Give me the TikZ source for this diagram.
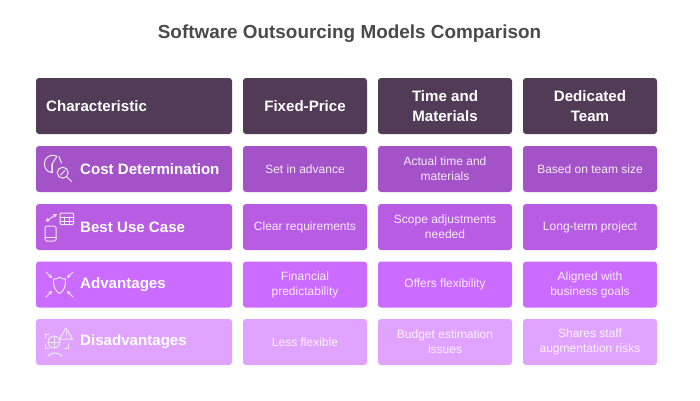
\documentclass[tikz,border=0pt]{standalone}
\usepackage{fontspec}
\setmainfont{Liberation Sans}
\usepackage{xcolor}
\usetikzlibrary{arrows.meta}
\definecolor{headfill}{HTML}{523B57}
\definecolor{costfill}{HTML}{A353C7}
\definecolor{usefill}{HTML}{B85CE3}
\definecolor{advfill}{HTML}{CB6BFF}
\definecolor{disfill}{HTML}{E0A3FF}
\definecolor{titlegrey}{HTML}{4A4A4A}
\tikzset{
	box/.style={rounded corners=3pt, inner sep=0pt, align=center},
	headtext/.style={font=\fontsize{15.1}{19.5}\selectfont\bfseries, text=white},
	celltxt/.style={font=\fontsize{12}{15}\selectfont},
	rowtext/.style={font=\fontsize{15.1}{18}\selectfont\bfseries, text=white, anchor=west, inner sep=0pt},
	icon/.style={draw=white!92!black, line width=1pt, line cap=round, line join=round},
	iconarrow/.style={icon, {Stealth[length=4pt, width=4.5pt]}-{Stealth[length=4pt, width=4.5pt]}},
	inarrow/.style={icon, -{Stealth[length=3.6pt, width=4.2pt]}},
}
\begin{document}
\begin{tikzpicture}[x=1pt, y=-1pt]
	\useasboundingbox (0,0) rectangle (700,400);

	\node (title) at (349.5,33.5) [font=\fontsize{18.9}{24}\selectfont\bfseries, text=titlegrey]
		{Software Outsourcing Models Comparison};

	% Header row
	\node (head) at (134,106) [box, fill=headfill, minimum width=196pt, minimum height=56pt] {};
	\node (headlabel) at (46,106) [headtext, anchor=west, inner sep=0pt] {Characteristic};
	\node (fixed) at (305,106) [box, fill=headfill, headtext, minimum width=124pt, minimum height=56pt] {Fixed-Price};
	\node (time) at (445,106) [box, fill=headfill, headtext, minimum width=134pt, minimum height=56pt] {Time and\\Materials};
	\node (team) at (590,106) [box, fill=headfill, headtext, minimum width=134pt, minimum height=56pt] {Dedicated\\Team};

	% Rows
	\foreach \name/\y/\col/\label/\a/\b/\c in {
		cost/169/costfill/Cost Determination/Set in advance/Actual time and\\materials/Based on team size,
		use/227/usefill/Best Use Case/Clear requirements/Scope adjustments\\needed/Long-term project,
		adv/284.5/advfill/Advantages/Financial\\predictability/Offers flexibility/Aligned with\\business goals,
		dis/342/disfill/Disadvantages/Less flexible/Budget estimation\\issues/Shares staff\\augmentation risks}
	{
		\node (\name) at (134,\y) [box, fill=\col, minimum width=196pt, minimum height=46pt] {};
		\node (\name label) at (80,\y) [rowtext] {\label};
		\node (\name a) at (305,\y) [box, fill=\col, celltxt, text=white!88!\col, minimum width=124pt, minimum height=46pt] {\a};
		\node (\name b) at (445,\y) [box, fill=\col, celltxt, text=white!88!\col, minimum width=134pt, minimum height=46pt] {\b};
		\node (\name c) at (590,\y) [box, fill=\col, celltxt, text=white!88!\col, minimum width=134pt, minimum height=46pt] {\c};
	}

	% Cost icon
	\draw [icon] (57,156.3) arc (-62:-262:8.7) -- (52,164) -- (57,156.3);
	\draw [icon] (52,164) -- (52,172.5);
	\draw [icon] (59,156.5) -- (61.5,163);
	\draw [icon] (62.7,172.7) circle (5.5);
	\draw [icon] (60.5,175) -- (65,170.5);
	\draw [icon] (66.8,176.8) -- (71.7,181.7);

	% Use case icon
	\draw [icon, rounded corners=1pt] (60,213) rectangle (73.5,224.5);
	\draw [icon] (60,217) -- (73.5,217) (60,221) -- (73.5,221) (64.5,217) -- (64.5,224.5) (69,217) -- (69,224.5);
	\draw [icon, rounded corners=1.5pt] (45,226) rectangle (56,241);
	\draw [icon] (45,237) -- (56,237);
	\draw [iconarrow] (45.5,221.5) -- (57,214);

	% Advantages icon
	\draw [icon] (53.5,279) .. controls (57,279) and (59,278) .. (59.5,277)
		.. controls (60,278) and (62,279) .. (65.5,279)
		.. controls (66,286) and (64,291) .. (59.5,293.5)
		.. controls (55,291) and (53,286) .. (53.5,279) -- cycle;
	\draw [inarrow] (46,272) -- (52,278);
	\draw [inarrow] (73,272) -- (67,278);
	\draw [inarrow] (46,297) -- (52,291);
	\draw [inarrow] (73,297) -- (67,291);

	% Disadvantages icon
	\draw [icon] (49,334) -- (45,334) -- (45,338);
	\draw [icon] (45,344) -- (45,348) -- (49,348);
	\draw [icon] (64,348) -- (68,348) -- (68,344);
	\draw [icon] (54,342) circle (6);
	\draw [icon] (48,342) -- (60,342) (54,336) -- (54,348);
	\draw [icon, fill=disfill] (66,328) -- (72.5,339) -- (59.5,339) -- cycle;
	\draw [icon] (66,331.5) -- (66,335) (66,337) -- (66,337.2);
	\draw [icon] (48,356) .. controls (51,352) and (59,352) .. (62,356);
\end{tikzpicture}
\end{document}
